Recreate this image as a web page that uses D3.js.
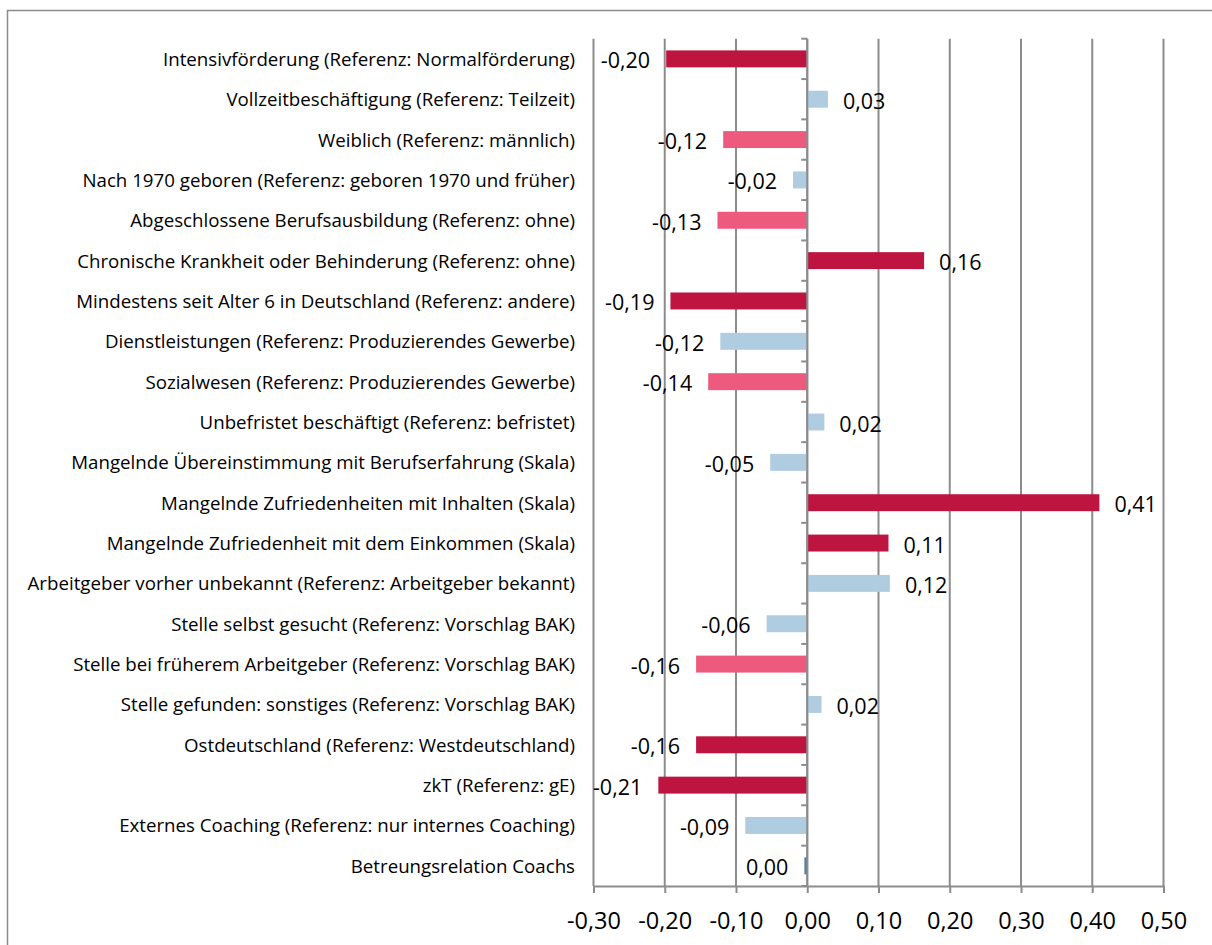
<!DOCTYPE html>
<html lang="de">
<head>
<meta charset="utf-8">
<title>Einflussfaktoren</title>
<script src="https://cdn.jsdelivr.net/npm/d3@7"></script>
<style>
  html, body { margin: 0; padding: 0; background: #ffffff; }
  svg { display: block; }
  text { font-family: "Open Sans", "Noto Sans", sans-serif; fill: #000; }
</style>
</head>
<body>
<svg id="chart" width="1212" height="945"></svg>
<script>
// Merkmale (von oben nach unten)
const categories = [
  "Intensivförderung (Referenz: Normalförderung)",
  "Vollzeitbeschäftigung (Referenz: Teilzeit)",
  "Weiblich (Referenz: männlich)",
  "Nach 1970 geboren (Referenz: geboren 1970 und früher)",
  "Abgeschlossene Berufsausbildung (Referenz: ohne)",
  "Chronische Krankheit oder Behinderung (Referenz: ohne)",
  "Mindestens seit Alter 6 in Deutschland (Referenz: andere)",
  "Dienstleistungen (Referenz: Produzierendes Gewerbe)",
  "Sozialwesen (Referenz: Produzierendes Gewerbe)",
  "Unbefristet beschäftigt (Referenz: befristet)",
  "Mangelnde Übereinstimmung mit Berufserfahrung (Skala)",
  "Mangelnde Zufriedenheiten mit Inhalten (Skala)",
  "Mangelnde Zufriedenheit mit dem Einkommen (Skala)",
  "Arbeitgeber vorher unbekannt (Referenz: Arbeitgeber bekannt)",
  "Stelle selbst gesucht (Referenz: Vorschlag BAK)",
  "Stelle bei früherem Arbeitgeber (Referenz: Vorschlag BAK)",
  "Stelle gefunden: sonstiges (Referenz: Vorschlag BAK)",
  "Ostdeutschland (Referenz: Westdeutschland)",
  "zkT (Referenz: gE)",
  "Externes Coaching (Referenz: nur internes Coaching)",
  "Betreungsrelation Coachs"
];

// Koeffizienten
const values = [
  -0.198, 0.029, -0.118, -0.020, -0.126, 0.164, -0.192, -0.122, -0.139, 0.024,
  -0.052, 0.410, 0.114, 0.116, -0.057, -0.156, 0.020, -0.156, -0.209, -0.087,
  -0.004
];

// Signifikanzgruppe je Merkmal: "hoch", "mittel", "ns", "basis"
const groups = [
  "hoch", "ns", "mittel", "ns", "mittel", "hoch", "hoch", "ns", "mittel", "ns",
  "ns", "hoch", "hoch", "ns", "ns", "mittel", "ns", "hoch", "hoch", "ns",
  "basis"
];

const tickValues = [-0.3, -0.2, -0.1, 0, 0.1, 0.2, 0.3, 0.4, 0.5];

const groupColors = {
  hoch: "#be1540",
  mittel: "#ee5a7e",
  ns: "#afcce0",
  basis: "#4a7eaa"
};

const rows = categories.map((c, i) => ({ cat: c, value: values[i], group: groups[i] }));

const de = d3.formatLocale({
  decimal: ",", thousands: ".", grouping: [3], currency: ["", " €"], minus: "-"
});
const fmt = de.format(".2f");

const svg = d3.select("#chart");
const gridColor = "#8c8c8c";

// Rahmen
svg.append("rect")
  .attr("x", 7.5).attr("y", 10.5)
  .attr("width", 1240).attr("height", 980)
  .attr("fill", "none")
  .attr("stroke", gridColor)
  .attr("stroke-width", 1.5);

const plot = { left: 593.5, right: 1163.5, top: 38.7, bottom: 886 };

const x = d3.scaleLinear().domain([-0.3, 0.5]).range([plot.left, plot.right]);
const y = d3.scaleBand()
  .domain(categories)
  .range([plot.top, plot.bottom])
  .paddingInner(0.58)
  .paddingOuter(0.29);

const slotCenter = d => y(d) + y.bandwidth() / 2;

// Gitterlinien
svg.append("g")
  .selectAll("line")
  .data(tickValues)
  .join("line")
  .attr("x1", d => x(d)).attr("x2", d => x(d))
  .attr("y1", plot.top).attr("y2", plot.bottom)
  .attr("stroke", gridColor)
  .attr("stroke-width", 2);

// Balken
svg.append("g")
  .selectAll("rect")
  .data(rows)
  .join("rect")
  .attr("x", d => x(Math.min(0, d.value)))
  .attr("width", d => Math.abs(x(d.value) - x(0)))
  .attr("y", d => y(d.cat))
  .attr("height", y.bandwidth())
  .attr("fill", d => groupColors[d.group]);

// x-Achse mit Beschriftung
const xAxis = d3.axisBottom(x)
  .tickValues(tickValues)
  .tickSize(7)
  .tickPadding(19)
  .tickFormat(d => fmt(d));

const xg = svg.append("g")
  .attr("transform", `translate(0,${plot.bottom})`)
  .call(xAxis);
xg.select(".domain").attr("stroke", gridColor).attr("stroke-width", 2);
xg.selectAll(".tick line").attr("stroke", gridColor).attr("stroke-width", 2);
xg.selectAll(".tick text")
  .attr("font-family", "Open Sans")
  .attr("font-size", 23.5)
  .attr("fill", "#000");

// senkrechte Achse bei 0 mit Kategorie-Teilstrichen
const step = y.step();
const boundaries = d3.range(categories.length + 1).map(i => plot.top + i * step);
const yAxisG = svg.append("g");
yAxisG.append("line")
  .attr("x1", x(0)).attr("x2", x(0))
  .attr("y1", plot.top).attr("y2", plot.bottom)
  .attr("stroke", gridColor).attr("stroke-width", 2);
yAxisG.selectAll("line.tk")
  .data(boundaries)
  .join("line")
  .attr("class", "tk")
  .attr("x1", x(0) - 6).attr("x2", x(0))
  .attr("y1", d => d).attr("y2", d => d)
  .attr("stroke", gridColor).attr("stroke-width", 2);

// Kategorienbeschriftung
svg.append("g")
  .selectAll("text")
  .data(rows)
  .join("text")
  .attr("x", 575)
  .attr("y", d => slotCenter(d.cat) + 7)
  .attr("text-anchor", "end")
  .attr("font-size", 18.7)
  .text(d => d.cat);

// Wertebeschriftung
svg.append("g")
  .selectAll("text")
  .data(rows)
  .join("text")
  .attr("x", d => d.value >= 0 ? x(d.value) + 15 : x(d.value) - 16)
  .attr("y", d => slotCenter(d.cat) + 9.5)
  .attr("text-anchor", d => d.value >= 0 ? "start" : "end")
  .attr("font-size", 21.5)
  .text(d => fmt(d.value));
</script>
</body>
</html>
